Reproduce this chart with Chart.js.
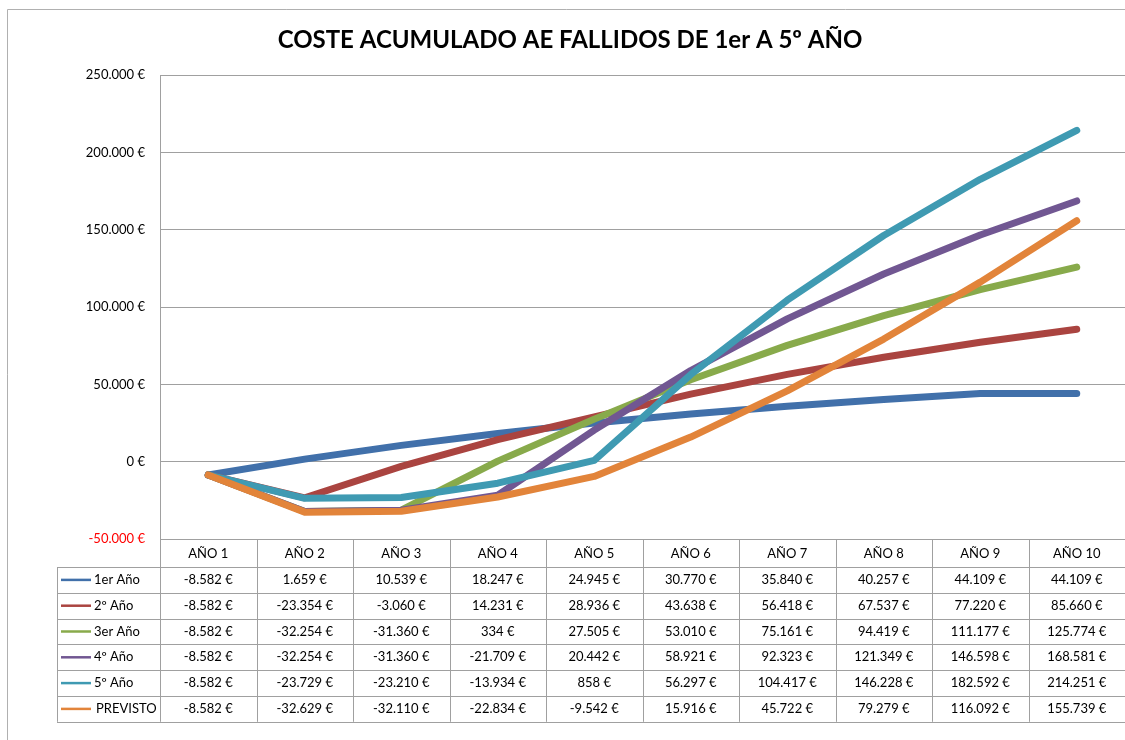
<!DOCTYPE html>
<html lang="es">
<head>
  <meta charset="UTF-8">
  <title>Coste acumulado AE fallidos</title>
  <script src="https://cdn.jsdelivr.net/npm/chart.js"></script>
  <style>
    body { margin: 0; background: #fff; }
    canvas { display: block; }
  </style>
</head>
<body>
  <canvas id="grafico" width="1125" height="740"></canvas>
  <script>
    const anios = ['AÑO 1', 'AÑO 2', 'AÑO 3', 'AÑO 4', 'AÑO 5', 'AÑO 6', 'AÑO 7', 'AÑO 8', 'AÑO 9', 'AÑO 10'];
    const series = ['1er Año', '2º Año', '3er Año', '4º Año', '5º Año', 'PREVISTO'];
    const colores = ['#4170AA', '#AA4440', '#88AA4B', '#715792', '#3F9AB2', '#E2843A'];

    const ano1 = [-8582, 1659, 10539, 18247, 24945, 30770, 35840, 40257, 44109, 44109];
    const ano2 = [-8582, -23354, -3060, 14231, 28936, 43638, 56418, 67537, 77220, 85660];
    const ano3 = [-8582, -32254, -31360, 334, 27505, 53010, 75161, 94419, 111177, 125774];
    const ano4 = [-8582, -32254, -31360, -21709, 20442, 58921, 92323, 121349, 146598, 168581];
    const ano5 = [-8582, -23729, -23210, -13934, 858, 56297, 104417, 146228, 182592, 214251];
    const previsto = [-8582, -32629, -32110, -22834, -9542, 15916, 45722, 79279, 116092, 155739];
    const valores = [ano1, ano2, ano3, ano4, ano5, previsto];

    const titulo = 'COSTE ACUMULADO AE FALLIDOS DE 1er A 5º AÑO';
    const fuente = 'Lato, "Liberation Sans", sans-serif';
    const gris = '#a0a0a0';

    function euros(v) {
      const s = Math.abs(Math.round(v)).toString().replace(/\B(?=(\d{3})+(?!\d))/g, '.');
      return (v < 0 ? '-' : '') + s + ' €';
    }

    // Tabla de datos bajo el gráfico + marco + título
    const tablaPlugin = {
      id: 'tabla',
      afterDraw(chart) {
        const ctx = chart.ctx;
        const area = chart.chartArea;
        const ancho = area.width / anios.length;
        const altoCab = 28;
        const altoFila = 25.8;
        const izq = 57;
        const filasTop = area.bottom + altoCab;
        const fondo = filasTop + altoFila * series.length;

        ctx.save();
        // marco exterior
        ctx.strokeStyle = '#b0b0b0';
        ctx.lineWidth = 1;
        ctx.beginPath();
        ctx.moveTo(7.5, 740);
        ctx.lineTo(7.5, 9.5);
        ctx.lineTo(1125, 9.5);
        ctx.stroke();

        // titulo
        ctx.fillStyle = '#000';
        ctx.font = 'bold 24px ' + fuente;
        ctx.textAlign = 'center';
        ctx.textBaseline = 'middle';
        ctx.fillText(titulo, 570, 40);

        // lineas de la tabla
        ctx.strokeStyle = gris;
        ctx.beginPath();
        for (let i = 0; i <= anios.length; i++) {
          const x = Math.round(area.left + i * ancho) + 0.5;
          ctx.moveTo(x, area.bottom);
          ctx.lineTo(x, fondo);
        }
        ctx.moveTo(izq + 0.5, filasTop);
        ctx.lineTo(izq + 0.5, fondo);
        ctx.moveTo(area.left, area.bottom + 0.5);
        ctx.lineTo(area.right, area.bottom + 0.5);
        for (let r = 0; r <= series.length; r++) {
          const y = Math.round(filasTop + r * altoFila) + 0.5;
          ctx.moveTo(izq, y);
          ctx.lineTo(area.right, y);
        }
        ctx.stroke();

        // cabecera
        ctx.font = '13px ' + fuente;
        ctx.textAlign = 'center';
        ctx.fillStyle = '#000';
        anios.forEach((a, i) => {
          ctx.fillText(a, area.left + (i + 0.5) * ancho, area.bottom + altoCab / 2 + 1);
        });

        // filas
        series.forEach((nombre, r) => {
          const yc = filasTop + (r + 0.5) * altoFila;
          ctx.strokeStyle = colores[r];
          ctx.lineWidth = 2.5;
          ctx.beginPath();
          ctx.moveTo(61, yc);
          ctx.lineTo(91, yc);
          ctx.stroke();
          ctx.fillStyle = '#000';
          ctx.textAlign = 'left';
          ctx.fillText(nombre, nombre === 'PREVISTO' ? 96 : 94, yc);
          ctx.textAlign = 'center';
          valores[r].forEach((v, i) => {
            ctx.fillText(euros(v), area.left + (i + 0.5) * ancho, yc);
          });
        });
        ctx.restore();
      }
    };

    const fondoBlanco = {
      id: 'fondo',
      beforeDraw(chart) {
        const ctx = chart.ctx;
        ctx.save();
        ctx.fillStyle = '#fff';
        ctx.fillRect(0, 0, chart.width, chart.height);
        ctx.restore();
      }
    };

    const datasets = series.map((nombre, i) => ({
      label: nombre,
      data: valores[i],
      borderColor: colores[i],
      backgroundColor: colores[i],
      borderWidth: 7,
      borderCapStyle: 'round',
      borderJoinStyle: 'round',
      pointRadius: 0,
      tension: 0,
      order: series.length - i
    }));

    new Chart(document.getElementById('grafico'), {
      type: 'line',
      data: { labels: anios, datasets: datasets },
      plugins: [fondoBlanco, tablaPlugin],
      options: {
        responsive: false,
        animation: false,
        devicePixelRatio: 1,
        layout: { padding: { top: 75, right: 0, bottom: 0, left: 0 } },
        plugins: {
          legend: { display: false },
          title: { display: false },
          tooltip: { enabled: false }
        },
        scales: {
          x: {
            offset: true,
            grid: { display: false },
            border: { display: true, color: gris },
            ticks: { display: false },
            afterFit(scale) { scale.height = 201; }
          },
          y: {
            min: -50000,
            max: 250000,
            ticks: {
              stepSize: 50000,
              padding: 15,
              font: { family: fuente, size: 13 },
              color: (c) => (c.tick && c.tick.value < 0 ? '#ff0000' : '#000'),
              callback: (v) => euros(v)
            },
            grid: { color: gris, drawTicks: false },
            border: { display: true, color: gris },
            afterFit(scale) { scale.width = 160; }
          }
        }
      }
    });
  </script>
</body>
</html>
